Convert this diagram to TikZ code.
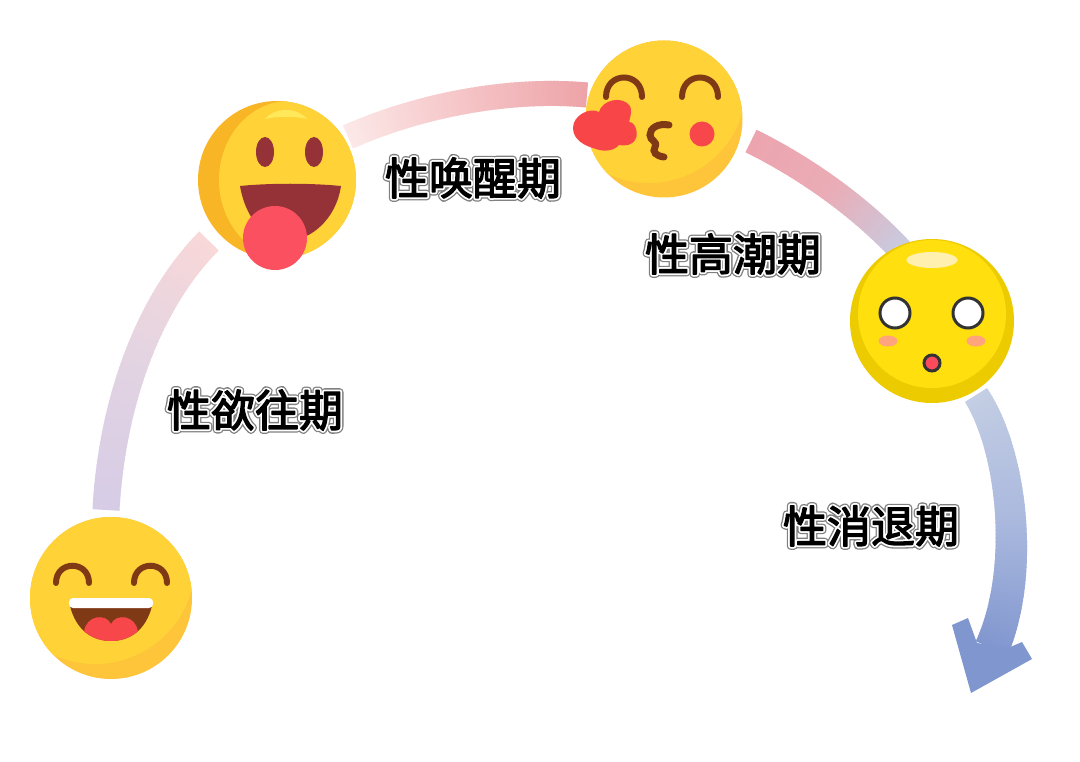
\documentclass[tikz,border=0pt]{standalone}
\usepackage{fontspec}
\newfontfamily\cjkcore[FakeBold=3]{Noto Sans CJK SC}
\newfontfamily\cjkwhite[FakeBold=11]{Noto Sans CJK SC}
\newfontfamily\cjkgray[FakeBold=17]{Noto Sans CJK SC}
\newcommand{\halotext}[1]{\fontsize{44}{48}\selectfont\rlap{\cjkgray\color[HTML]{808080}#1}\rlap{\cjkwhite\color{white}#1}{\cjkcore\color{black}#1}}
\definecolor{faceA}{HTML}{FFD337}
\definecolor{faceB}{HTML}{FEC43A}
\definecolor{browneye}{HTML}{7F3A15}
\definecolor{redA}{HTML}{F8474B}
\begin{document}
\begin{tikzpicture}[x=1pt,y=-1pt,
  eyearc/.style={draw=browneye,line width=6pt,line cap=round},
  label/.style={inner sep=0pt,anchor=center}]
\useasboundingbox (0,0) rectangle (1080,762);
\fill[white] (0,0) rectangle (1080,762);

\newcommand{\band}[6]{% gradient band along a cubic Bezier: points #1; colours #2 #3 #4; width #5 to #6
  \foreach \xa/\ya/\xb/\yb/\xc/\yc/\xd/\yd in {#1}{%
    \foreach \i in {0,...,69}{%
      \pgfmathsetmacro{\ta}{\i/70}%
      \pgfmathsetmacro{\tb}{min(1,(\i+1.5)/70)}%
      \pgfmathsetmacro{\pct}{\i<35?100-200*\ta:200-200*\ta}%
      \pgfmathsetmacro{\wd}{#5+(#6-#5)*\ta}%
      \ifnum\i<35 \colorlet{segc}{#2!\pct!#3}\else \colorlet{segc}{#3!\pct!#4}\fi
      \pgfmathsetmacro{\pxa}{(1-\ta)^3*\xa+3*(1-\ta)^2*\ta*\xb+3*(1-\ta)*\ta^2*\xc+\ta^3*\xd}%
      \pgfmathsetmacro{\pya}{(1-\ta)^3*\ya+3*(1-\ta)^2*\ta*\yb+3*(1-\ta)*\ta^2*\yc+\ta^3*\yd}%
      \pgfmathsetmacro{\pxb}{(1-\tb)^3*\xa+3*(1-\tb)^2*\tb*\xb+3*(1-\tb)*\tb^2*\xc+\tb^3*\xd}%
      \pgfmathsetmacro{\pyb}{(1-\tb)^3*\ya+3*(1-\tb)^2*\tb*\yb+3*(1-\tb)*\tb^2*\yc+\tb^3*\yd}%
      \draw[line width=\wd pt,segc] (\pxa,\pya) -- (\pxb,\pyb);
    }}}
\definecolor{g1}{RGB}{214,204,230}\definecolor{g2}{RGB}{228,212,226}\definecolor{g3}{RGB}{249,216,216}
\definecolor{g4}{RGB}{252,232,232}\definecolor{g5}{RGB}{245,196,198}\definecolor{g6}{RGB}{237,163,168}
\definecolor{g7}{RGB}{236,165,175}\definecolor{g8}{RGB}{234,172,182}\definecolor{g9}{RGB}{198,206,228}
\definecolor{h1}{RGB}{196,206,228}\definecolor{h2}{RGB}{172,186,222}\definecolor{h3}{RGB}{128,150,207}

\band{106/510/112/400/150/300/209/241}{g1}{g2}{g3}{27}{27}
\band{348/137/420/105/510/88/587/95}{g4}{g5}{g6}{25}{25}
\band{751/141/800/165/860/205/905/255}{g7}{g8}{g9}{25}{25}
\band{976/395/1012/450/1026/570/992/648}{h1}{h2}{h3}{26}{35}
% arrow head
\fill[h3] (952,625) -- (968,618) -- (977,643) -- (1008,648) -- (1022,642) -- (1032,659) -- (971,693) -- cycle;

% face 1: laughing
\fill[faceB] (111,598) circle[radius=81];
\begin{scope}
  \clip (111,598) circle[radius=81];
  \fill[faceA] (95,564) circle[radius=100];
\end{scope}
\draw[eyearc] (56,583) .. controls (56,560) and (89,560) .. (89,583);
\draw[eyearc] (134,583) .. controls (134,560) and (167,560) .. (167,583);
\fill[browneye] (70,606) .. controls (76,630) and (92,641) .. (111,641) .. controls (130,641) and (146,630) .. (152,606) -- cycle;
\begin{scope}
  \clip (70,606) .. controls (76,630) and (92,641) .. (111,641) .. controls (130,641) and (146,630) .. (152,606) -- cycle;
  \fill[redA] (84,632) .. controls (86,615) and (106,613) .. (111,624) .. controls (116,613) and (136,615) .. (138,632) -- (138,645) -- (84,645) -- cycle;
\end{scope}
\fill[white,rounded corners=4pt] (69,598) rectangle (153,608);

% face 2: tongue out
\fill[color={rgb,255:red,248;green,181;blue,37}] (277,180) circle[radius=79];
\begin{scope}
  \clip (277,180) circle[radius=79];
  \fill[faceA] (289,180) ellipse[x radius=70,y radius=79];
\end{scope}
\fill[color={rgb,255:red,255;green,232;blue,90}] (265,119) .. controls (275,107) and (297,107) .. (307,119) .. controls (295,116) and (277,116) .. (265,119) -- cycle;
\fill[color={rgb,255:red,148;green,50;blue,55}] (265,152) ellipse[x radius=9,y radius=15];
\fill[color={rgb,255:red,148;green,50;blue,55}] (314,152) ellipse[x radius=9,y radius=15];
\fill[color={rgb,255:red,148;green,50;blue,55}] (240,186) .. controls (270,183) and (310,183) .. (341,186) .. controls (336,220) and (310,240) .. (290,240) .. controls (265,240) and (246,220) .. (240,186) -- cycle;
\fill[color={rgb,255:red,250;green,80;blue,96}] (275,238) circle[radius=32];

% face 3: kiss
\fill[faceB] (664,119) circle[radius=78.5];
\begin{scope}
  \clip (664,119) circle[radius=78.5];
  \fill[faceA] (649,86) circle[radius=97];
\end{scope}
\draw[eyearc] (606,97) .. controls (606,71) and (642,71) .. (642,97);
\draw[eyearc] (682,97) .. controls (682,71) and (718,71) .. (718,97);
\draw[eyearc,line width=7pt] (669,125) .. controls (658,123) and (650,128) .. (650,135) .. controls (650,141) and (658,141) .. (655,147) .. controls (652,152) and (656,156) .. (664,157);
\fill[redA] (702,134) circle[radius=12.5];
\fill[color={rgb,255:red,248;green,69;blue,72}] (573,128) .. controls (573,115) and (590,107) .. (599,112) .. controls (602,100) and (622,95) .. (630,106) .. controls (632,110) and (631,115) .. (629,122) .. controls (636,122) and (638,134) .. (636,138) .. controls (633,146) and (624,146) .. (619,145) .. controls (614,151) and (604,152) .. (596,149) .. controls (585,146) and (573,140) .. (573,128) -- cycle;

% face 4: surprised
\fill[color={rgb,255:red,236;green,203;blue,0}] (932,321) circle[radius=82];
\fill[color={rgb,255:red,255;green,224;blue,14}] (932,314) circle[radius=74];
\fill[color={rgb,255:red,255;green,240;blue,176}] (932,260) ellipse[x radius=25.5,y radius=8];
\draw[fill=white,draw=black!80,line width=3pt] (895,313) circle[radius=15];
\draw[fill=white,draw=black!80,line width=3pt] (968,313) circle[radius=15];
\fill[color={rgb,255:red,255;green,164;blue,125}] (888,341) ellipse[x radius=9.5,y radius=5.5];
\fill[color={rgb,255:red,255;green,164;blue,125}] (976,341) ellipse[x radius=9.5,y radius=5.5];
\draw[fill={rgb,255:red,250;green,74;blue,92},draw=black!80,line width=3pt] (932,363) circle[radius=8];

% labels
\begin{scope}[line join=round,line cap=round]
\node[label] (t1) at (255,410) {\halotext{性欲往期}};
\node[label] (t2) at (473,178) {\halotext{性唤醒期}};
\node[label] (t3) at (733,254) {\halotext{性高潮期}};
\node[label] (t4) at (871,526) {\halotext{性消退期}};
\end{scope}
\end{tikzpicture}
\end{document}
